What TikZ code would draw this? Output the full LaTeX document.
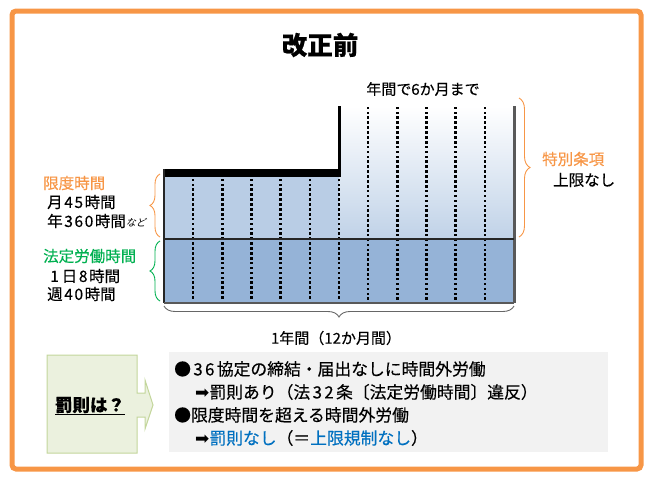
\documentclass[tikz,border=0pt]{standalone}
\usepackage{fontspec}
\setmainfont{Noto Sans CJK JP}[FakeBold=0.35]
\newfontfamily\dejavu{DejaVu Sans}
\newfontfamily\cjkslant{Noto Sans CJK JP}[FakeSlant=0.25]
\newcommand{\dk}{\kern1.6pt}
\newcommand{\bk}{\kern2.4pt}
\usetikzlibrary{decorations.pathreplacing}
\definecolor{frameorange}{HTML}{F79646}
\definecolor{lightband}{HTML}{B9CDE5}
\definecolor{darkband}{HTML}{95B3D7}
\definecolor{labgreen}{HTML}{00B050}
\definecolor{laborange}{HTML}{F79646}
\definecolor{labblue}{HTML}{0070C0}
\definecolor{boxgreen}{HTML}{EBF1DE}
\definecolor{boxgreenline}{HTML}{C3D69B}
\definecolor{boxgray}{HTML}{F2F2F2}
\definecolor{edgegray}{HTML}{595959}
\begin{document}
\begin{tikzpicture}[x=1pt,y=-1pt,
  lbl/.style={inner sep=0pt, anchor=west, font=\fontsize{15.5}{18}\selectfont},
  boxtxt/.style={inner sep=0pt, anchor=west, font=\fontsize{16.8}{20}\selectfont},
  dotline/.style={line width=2.6pt, dash pattern=on 0.01pt off 4.88pt, line cap=rect},
  bracedeco/.style={decorate, decoration={brace, amplitude=#1}, line width=0.9pt}]
\useasboundingbox (0,0) rectangle (649,479);
% frame
\draw[frameorange, line width=5pt, rounded corners=4pt] (12,11) rectangle (641,469);
% title
\node[font=\bfseries\fontsize{25.5}{30}\selectfont] (title) at (320,45) {改正前};
\node[font=\fontsize{15}{18}\selectfont] (sixmonths) at (423,89) {年間で6か月まで};
% chart coordinates
\coordinate (tl) at (164,173);
\coordinate (mt) at (339,106);
\coordinate (rt) at (514,106);
\coordinate (ml) at (164,239);
\coordinate (mr) at (514,239);
\coordinate (bl) at (164,303);
\coordinate (br) at (514,303);
% fills
\fill[lightband] (164,176) rectangle (339,239);
\shade[top color=white, bottom color=lightband!90!white] (339,106) rectangle (514,239);
\fill[darkband] (ml) rectangle (br);
% dotted columns
\foreach \k in {1,...,6} {
  \draw[dotline] ({164+29.17*\k},180) -- ({164+29.17*\k},302);
}
\foreach \k in {7,...,11} {
  \draw[dotline] ({164+29.17*\k},108) -- ({164+29.17*\k},302);
}
% outlines
\fill[black] (164,169) rectangle (341,177);
\draw[black, line width=3pt] (339.5,106) -- (339.5,177);
\draw[edgegray, line width=3pt] (rt) -- (br);
\draw[black!85, line width=2pt] (164,169) -- (bl);
\draw[black!85, line width=2pt] (ml) -- (mr);
\draw[edgegray, line width=2pt] (bl) -- (br);
% braces
\coordinate (bb1) at (514,306);
\coordinate (bb2) at (164,306);
\draw[bracedeco=11pt, black!60] (bb1) -- (bb2);
\node[font=\fontsize{15}{18}\selectfont] (year) at (336,338) {1年間（12か月間）};
\coordinate (ob1) at (160,237);
\coordinate (ob2) at (160,174);
\draw[bracedeco=10pt, laborange] (ob1) -- (ob2);
\coordinate (gb1) at (160,301);
\coordinate (gb2) at (160,241);
\draw[bracedeco=10pt, labgreen] (gb1) -- (gb2);
\coordinate (rb1) at (519,98);
\coordinate (rb2) at (519,237);
\draw[bracedeco=11pt, laborange] (rb1) -- (rb2);
% left labels
\node[lbl, laborange] (gendo) at (43,183) {限度時間};
\node[lbl] (m45) at (47,202) {月\dk 4\dk 5\dk 時間};
\node[lbl] (y360) at (47,221) {年\dk 3\dk 6\dk 0\dk 時間{\cjkslant\fontsize{10}{12}\selectfont など}};
\node[lbl, labgreen] (houtei) at (43,256) {法定労働時間};
\node[lbl] (d8) at (47,276) {\kern3pt 1\kern3pt 日\dk 8\dk 時間};
\node[lbl] (w40) at (47,294) {週\dk 4\dk 0\dk 時間};
% right labels
\node[lbl, laborange] (tokubetsu) at (542,159) {特別条項};
\node[lbl] (nolimit) at (553,180) {上限なし};
% penalty box
\draw[boxgreenline, fill=boxgreen, line width=1pt]
  (47,355) -- (137,355) -- (137,393) -- (145,393) -- (145,380) -- (153,405)
  -- (145,429) -- (145,417) -- (137,417) -- (137,453) -- (47,453) -- cycle;
\node[inner sep=0pt, font=\bfseries\fontsize{17.5}{20}\selectfont] (penalty) at (90,406) {\underline{罰則は？}};
% gray box
\fill[boxgray] (169,352) rectangle (608,452);
\node[boxtxt] (line1) at (174,369) {●\bk 3\bk 6\bk 協定の締結・届出なしに時間外労働};
\node[boxtxt] (line2) at (195,392) {{\dejavu\fontsize{17}{20}\selectfont ➡}罰則あり（法\bk 3\bk 2\bk 条〔法定労働時間〕違反）};
\node[boxtxt] (line3) at (174,415) {●限度時間を超える時間外労働};
\node[boxtxt] (line4) at (195,438) {{\dejavu\fontsize{17}{20}\selectfont ➡}\textcolor{labblue}{罰則なし}（＝\textcolor{labblue}{上限規制なし}）};
\end{tikzpicture}
\end{document}
